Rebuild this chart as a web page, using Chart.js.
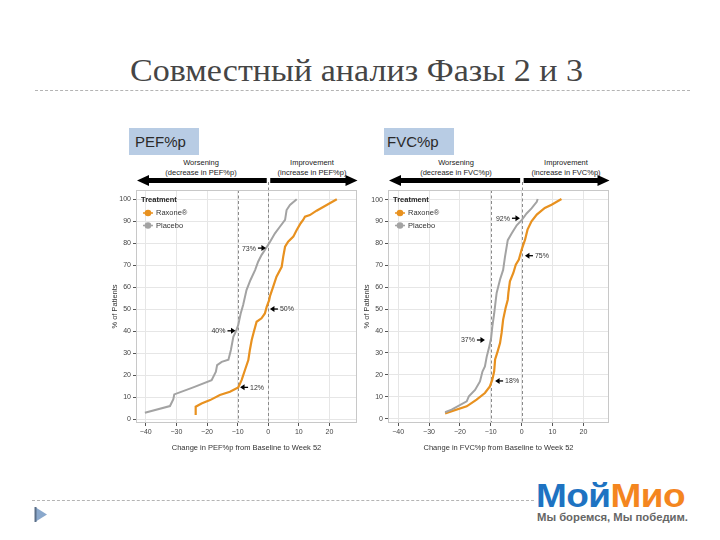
<!DOCTYPE html>
<html><head><meta charset="utf-8">
<script src="https://cdn.jsdelivr.net/npm/chart.js@4/dist/chart.umd.min.js"></script>
<style>
body{margin:0;width:720px;height:540px;background:#fff;position:relative;overflow:hidden;font-family:"Liberation Sans",Arial,sans-serif;}
.abs{position:absolute;white-space:nowrap;}
#title{left:0;top:0;font-family:"Liberation Serif",serif;font-size:32px;color:#454545;transform-origin:0 0;}
.hr{position:absolute;height:0;border-top:1px dashed #b4b4b4;}
.hdr{position:absolute;background:#b8cce4;width:70px;height:27px;top:128px;font-size:15px;color:#2a2a2a;line-height:27px;padding-left:6px;box-sizing:border-box;}
.dir{position:absolute;font-size:7.5px;line-height:9.5px;text-align:center;color:#1a1a1a;width:120px;top:158px;}
canvas{position:absolute;}
#logo{font-weight:bold;font-size:33px;transform-origin:0 0;letter-spacing:-0.5px}
#tag{font-size:10px;color:#666;font-weight:bold;transform-origin:0 0;}
</style></head>
<body>
<div id="title" class="abs">Совместный анализ Фазы 2 и 3</div>
<div class="hr" style="left:35px;width:655px;top:90px"></div>
<div class="hr" style="left:32px;width:502px;top:500px"></div>
<svg class="abs" style="left:34px;top:506px" width="14" height="17"><polygon points="1,1 13,8.5 1,16" fill="#8aa8cc"/><line x1="1.5" y1="1" x2="1.5" y2="16" stroke="#5b6f88" stroke-width="2"/></svg>
<div id="logo" class="abs"><span style="color:#1e73c2">Мой</span><span style="color:#f4861f">Мио</span></div>
<div id="tag" class="abs">Мы боремся, Мы победим.</div>

<div class="hdr" style="left:129px">PEF%p</div>
<div class="hdr" style="left:384px;padding-left:3px">FVC%p</div>
<div class="dir" style="left:141px">Worsening<br>(decrease in PEF%p)</div>
<div class="dir" style="left:252px">Improvement<br>(increase in PEF%p)</div>
<div class="dir" style="left:396px">Worsening<br>(decrease in FVC%p)</div>
<div class="dir" style="left:506px">Improvement<br>(increase in FVC%p)</div>

<canvas id="c1" width="265" height="282" style="left:100px;top:170px"></canvas>
<canvas id="c2" width="265" height="282" style="left:352px;top:170px"></canvas>

<script>
// ---------- data ----------
const seriesNames = ['Raxone®', 'Placebo'];
const yTicks = [0, 10, 20, 30, 40, 50, 60, 70, 80, 90, 100];
const xTicks = [-40, -30, -20, -10, 0, 10, 20];
const refLines = [-10, 0];

const pefRaxoneX = [-23.7,-23.7,-21.8,-19,-15.8,-12.5,-9.8,-8.7,-7.6,-6.5,-6,-5.4,-4.7,-3.8,-2.2,-1.1,-0.5,0.3,0.6,1.6,2.7,4.4,4.9,5.5,6.5,8.2,9.3,10.6,11.4,12,13.6,15.8,19.1,22.4];
const pefRaxoneY = [1.8,5.6,7.1,8.6,10.9,12.4,14.4,17.7,22.3,26.8,31.4,35.9,39.7,44.2,45.8,48,51,54,56,60.1,64.7,69.2,73.8,78.3,80.6,82.9,85.9,89,90.5,92,92.7,94.7,97.3,99.9];
const pefPlaceboX = [-40.3,-32.1,-31,-30.7,-24.5,-18.5,-17.1,-16.7,-15.2,-13,-12.2,-11.4,-10.6,-9.8,-9,-8.2,-7.1,-5.8,-4.3,-3.3,-2.2,-1.1,0.6,2.2,3.8,5.5,6,7.1,9.3];
const pefPlaceboY = [2.9,5.9,9,11.2,14.4,17.7,21.5,24.5,26,27,31.4,37.4,39.7,42.7,48,51.8,58.6,63.2,67.7,71.5,74.5,76.8,80.6,84.4,87.4,90.5,95,97.3,99.9];

const fvcRaxoneX = [-24.8,-17.8,-14.6,-11.9,-10.3,-9.5,-8.9,-8.6,-7.8,-7,-6.5,-6,-5.2,-4.5,-4.3,-3.8,-2.7,-1.9,-0.9,0,1.1,1.9,3.2,4.9,7.5,9.7,12.9];
const fvcRaxoneY = [2.4,5.6,8.7,11.7,14.7,17.8,21.6,27,30.6,34.5,39.1,45.2,50.5,54.3,57.4,62.7,66.5,70.3,72.6,77.2,81.7,86.3,90.1,93.2,96.2,97.7,100.3];
const fvcPlaceboX = [-24.8,-22.7,-17.8,-17.1,-15.1,-13.5,-12.7,-11.9,-11.3,-10.6,-9.9,-9.5,-8.9,-8.4,-8.1,-7,-6,-5.4,-4.5,-3.2,-1.6,0,1.6,3.2,4.9,5.2];
const fvcPlaceboY = [2.9,4.1,7.9,10.2,13.1,17,21.5,23.8,28.4,32.2,36.7,42,48,54,57.4,63.5,67.9,73.9,81.5,84.6,88.3,90.6,93.7,96,99,100.3];

const pefNoteLabels = ['73%', '50%', '40%', '12%'];
const pefNoteX = [-0.75, 0.55, -10.7, -9.2];
const pefNoteY = [77.7, 50, 40.1, 14.4];
const pefNoteSide = ['before', 'after', 'before', 'after'];

const fvcNoteLabels = ['92%', '75%', '37%', '18%'];
const fvcNoteX = [-0.55, 1.07, -11.9, -8.6];
const fvcNoteY = [91.5, 74.4, 35.9, 17.2];
const fvcNoteSide = ['before', 'after', 'before', 'after'];

const pefXTitle = 'Change in PEF%p from Baseline to Week 52';
const fvcXTitle = 'Change in FVC%p from Baseline to Week 52';
const yTitle = '% of Patients';
const legendTitle = 'Treatment';

// ---------- styles ----------
const ORANGE = '#e8911f', GRAY = '#a3a3a3';
const FONT = '"Liberation Sans", Arial, sans-serif';

const extras = {
  id: 'extras',
  beforeDatasetsDraw(chart) {
    const {ctx, chartArea: a, scales: {x}} = chart;
    ctx.save();
    ctx.strokeStyle = '#8a8a8a'; ctx.lineWidth = 1; ctx.setLineDash([3, 2.5]);
    refLines.forEach((v, i) => {
      const px = Math.round(x.getPixelForValue(v)) + 0.5;
      ctx.beginPath(); ctx.moveTo(px, i === 1 ? a.top - 8 : a.top); ctx.lineTo(px, a.bottom); ctx.stroke();
    });
    ctx.restore();
  },
  afterDatasetsDraw(chart, args, o) {
    const {ctx, chartArea: a, scales: {x, y}} = chart;
    ctx.save();
    ctx.strokeStyle = '#c8c8c8'; ctx.lineWidth = 1;
    ctx.strokeRect(a.left + 0.5, a.top + 0.5, a.right - a.left - 1, a.bottom - a.top - 1);
    const ay = a.top - 9.5, x0 = x.getPixelForValue(0);
    ctx.fillStyle = '#000';
    const arrow = (tip, end, dir) => {
      ctx.fillRect(Math.min(tip + dir * 10, end), ay - 2.5, Math.abs(end - (tip + dir * 10)), 5);
      ctx.beginPath(); ctx.moveTo(tip, ay); ctx.lineTo(tip + dir * 12, ay - 5.5); ctx.lineTo(tip + dir * 12, ay + 5.5); ctx.closePath(); ctx.fill();
    };
    arrow(a.left + 1, x0 - 1.5, 1);
    arrow(a.right + 0.5, x0 + 2, -1);
    const lx = a.left + 5;
    ctx.fillStyle = '#222'; ctx.textBaseline = 'middle'; ctx.textAlign = 'left';
    ctx.font = 'bold 7.5px ' + FONT;
    ctx.fillText(legendTitle, lx, a.top + 10);
    ctx.font = '7.5px ' + FONT;
    [ORANGE, GRAY].forEach((c, i) => {
      const ky = a.top + 23 + i * 12.5;
      ctx.strokeStyle = c; ctx.lineWidth = 1.5;
      ctx.beginPath(); ctx.moveTo(lx + 2, ky); ctx.lineTo(lx + 12, ky); ctx.stroke();
      ctx.fillStyle = c; ctx.beginPath(); ctx.arc(lx + 7, ky, 3.3, 0, Math.PI * 2); ctx.fill();
      ctx.fillStyle = '#333'; ctx.fillText(seriesNames[i], lx + 15, ky);
    });
    ctx.font = '7px ' + FONT; ctx.strokeStyle = '#000'; ctx.lineWidth = 1.3;
    o.labels.forEach((t, i) => {
      const px = x.getPixelForValue(o.xs[i]), py = y.getPixelForValue(o.ys[i]);
      const d = o.side[i] === 'before' ? -1 : 1;
      ctx.fillStyle = '#000';
      ctx.beginPath(); ctx.moveTo(px, py); ctx.lineTo(px + d * 4.5, py - 3); ctx.lineTo(px + d * 4.5, py + 3); ctx.closePath(); ctx.fill();
      ctx.beginPath(); ctx.moveTo(px + d * 4, py); ctx.lineTo(px + d * 8, py); ctx.stroke();
      ctx.fillStyle = '#333';
      ctx.textAlign = d < 0 ? 'right' : 'left';
      ctx.fillText(t, px + d * 10, py + 0.5);
    });
    ctx.restore();
  }
};

function makeChart(id, rX, rY, pX, pY, xr, yr, xTitle, notes) {
  const pts = (xs, ys) => xs.map((v, i) => ({x: v, y: ys[i]}));
  return new Chart(document.getElementById(id), {
    type: 'line',
    data: {
      datasets: [
        {label: seriesNames[1], data: pts(pX, pY), borderColor: GRAY, borderWidth: 2, pointRadius: 0, tension: 0},
        {label: seriesNames[0], data: pts(rX, rY), borderColor: ORANGE, borderWidth: 2.2, pointRadius: 0, tension: 0}
      ]
    },
    options: {
      responsive: false, animation: false, devicePixelRatio: 1,
      layout: {padding: {top: 20, right: 8, left: 0, bottom: 0}},
      plugins: {legend: {display: false}, tooltip: {enabled: false}, extras: notes},
      scales: {
        x: {
          type: 'linear', min: xr[0], max: xr[1],
          afterBuildTicks: s => { s.ticks = xTicks.map(v => ({value: v})); },
          afterFit: s => { s.height = 29; },
          grid: {color: '#e6e6e6', tickColor: '#555', tickLength: 3, drawTicks: true},
          border: {display: false},
          ticks: {font: {size: 7, family: FONT}, color: '#444', padding: 2, maxRotation: 0,
                  callback: v => v < 0 ? '\u2212' + Math.abs(v) : String(v)},
          title: {display: true, text: xTitle, font: {size: 7.5, family: FONT}, color: '#333', padding: {top: 0, bottom: 0}}
        },
        y: {
          type: 'linear', min: yr[0], max: yr[1],
          afterBuildTicks: s => { s.ticks = yTicks.map(v => ({value: v})); },
          afterFit: s => { s.width = 36; },
          grid: {color: '#e6e6e6', tickColor: '#555', tickLength: 3},
          border: {display: false},
          ticks: {font: {size: 7, family: FONT}, color: '#444', padding: 2},
          title: {display: true, text: yTitle, font: {size: 7.5, family: FONT}, color: '#333', padding: {top: 10, bottom: 0}}
        }
      }
    },
    plugins: [extras]
  });
}

makeChart('c1', pefRaxoneX, pefRaxoneY, pefPlaceboX, pefPlaceboY, [-43.2, 29], [-1.8, 104.1], pefXTitle,
  {labels: pefNoteLabels, xs: pefNoteX, ys: pefNoteY, side: pefNoteSide});
makeChart('c2', fvcRaxoneX, fvcRaxoneY, fvcPlaceboX, fvcPlaceboY, [-43.3, 28.3], [-2, 104.4], fvcXTitle,
  {labels: fvcNoteLabels, xs: fvcNoteX, ys: fvcNoteY, side: fvcNoteSide});

function fit(id, left, top, w, hScale) {
  const el = document.getElementById(id);
  const nat = el.getBoundingClientRect().width;
  el.style.left = left + 'px'; el.style.top = top + 'px';
  el.style.transform = 'scale(' + (w / nat) + ',' + (hScale || 1) + ')';
}
fit('title', 130, 52, 453, 1.0);
fit('logo', 536, 477, 149, 1);
fit('tag', 537, 512, 151, 1);
</script>
</body></html>
